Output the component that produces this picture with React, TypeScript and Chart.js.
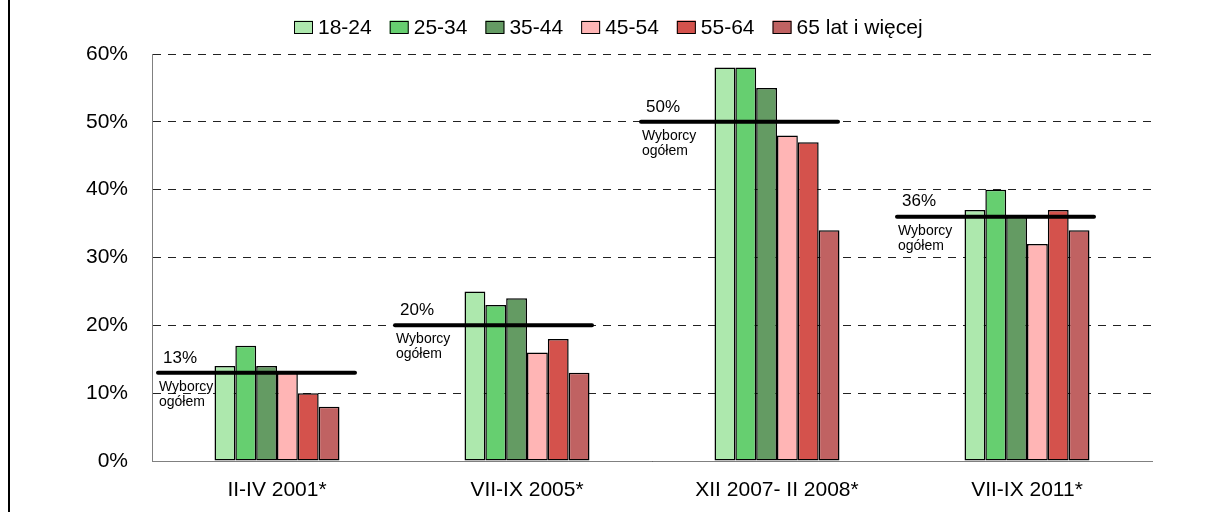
import React, { useEffect, useRef } from "react";
import { Chart, registerables } from "chart.js";

Chart.register(...registerables);

const categories = ["II-IV 2001*", "VII-IX 2005*", "XII 2007- II 2008*", "VII-IX 2011*"];
const seriesLabels = ["18-24", "25-34", "35-44", "45-54", "55-64", "65 lat i więcej"];
const s1824 = [14, 25, 58, 37];
const s2534 = [17, 23, 58, 40];
const s3544 = [14, 24, 55, 36];
const s4554 = [13, 16, 48, 32];
const s5564 = [10, 18, 47, 37];
const s65 = [8, 13, 34, 34];
const totals = [13, 20, 50, 36];
const totalCaption = ["Wyborcy", "ogółem"];
const yTicks = [0, 10, 20, 30, 40, 50, 60];

const colors = ["#ade8ad", "#66cf70", "#649b63", "#ffb5b5", "#d4524c", "#c06262"];
const FONT = "'Liberation Sans', Arial, sans-serif";

const overlayPlugin = {
  id: "overlay",
  afterDatasetsDraw(chart: any, _args: any, opts: any) {
    const ctx = chart.ctx;
    const xs = chart.scales.x;
    const ys = chart.scales.y;
    const n = chart.data.labels.length;
    const catW = xs.width / n;
    ctx.save();
    for (let i = 0; i < n; i++) {
      const cx = xs.getPixelForValue(i);
      const x0 = cx + opts.start[i] * catW;
      const x1 = x0 + opts.length * catW;
      const y = ys.getPixelForValue(totals[i]);
      ctx.strokeStyle = "#000";
      ctx.lineWidth = 4;
      ctx.lineCap = "round";
      ctx.beginPath();
      ctx.moveTo(x0, y);
      ctx.lineTo(x1, y);
      ctx.stroke();
      ctx.fillStyle = "#000";
      ctx.textBaseline = "middle";
      ctx.textAlign = "left";
      ctx.font = `17px ${FONT}`;
      ctx.fillText(`${totals[i]}%`, x0 + 5, y - 15);
      ctx.font = `14px ${FONT}`;
      ctx.fillText(totalCaption[0], x0 + 1, y + 14);
      ctx.fillText(totalCaption[1], x0 + 1, y + 29);
    }
    ctx.restore();
  },
  afterDraw(chart: any) {
    const ctx = chart.ctx;
    ctx.save();
    // frame left edge
    ctx.fillStyle = "#000";
    ctx.fillRect(8, 0, 2, chart.height);
    // legend
    ctx.font = `21px ${FONT}`;
    const items = chart.data.datasets.map((d: any) => ({
      label: d.label,
      color: d.backgroundColor,
      w: 19 + 5 + ctx.measureText(d.label).width,
    }));
    const gap = 18;
    const total = items.reduce((a: number, b: any) => a + b.w, 0) + gap * (items.length - 1);
    let x = Math.round((chart.width - total) / 2 + 5);
    const yc = 27;
    for (const it of items) {
      ctx.fillStyle = it.color;
      ctx.fillRect(x, yc - 6.5, 19, 13);
      ctx.strokeStyle = "#000";
      ctx.lineWidth = 1;
      ctx.strokeRect(x + 0.5, Math.round(yc - 6.5) + 0.5, 18, 12);
      ctx.fillStyle = "#000";
      ctx.textAlign = "left";
      ctx.textBaseline = "middle";
      ctx.fillText(it.label, x + 24, yc + 1);
      x += it.w + gap;
    }
    ctx.restore();
  },
};

export default function App() {
  const ref = useRef<HTMLCanvasElement | null>(null);
  useEffect(() => {
    document.body.style.margin = "0";
    const canvas = ref.current!;
    const seriesData = [s1824, s2534, s3544, s4554, s5564, s65];
    const chart = new Chart(canvas, {
      type: "bar",
      data: {
        labels: categories,
        datasets: seriesLabels.map((label, i) => ({
          label,
          data: seriesData[i],
          backgroundColor: colors[i],
          borderColor: "#000",
          borderWidth: 1.5,
          borderSkipped: false,
          categoryPercentage: 0.5,
          barPercentage: 1.0,
        })),
      },
      options: {
        responsive: false,
        animation: false,
        devicePixelRatio: 1,
        layout: { padding: { left: 0, right: 55, top: 54, bottom: 0 } },
        plugins: {
          legend: { display: false },
          tooltip: { enabled: false },
          overlay: {
            start: [-0.476, -0.528, -0.544, -0.52],
            length: 0.788,
          },
        } as any,
        scales: {
          x: {
            grid: { display: false, drawTicks: false },
            border: { display: true, color: "#808080", width: 1 },
            ticks: { color: "#000", font: { family: FONT, size: 21 }, padding: 17, maxRotation: 0 },
            afterFit: (s: any) => {
              s.height = 51;
            },
          },
          y: {
            min: 0,
            max: 60,
            afterBuildTicks: (s: any) => {
              s.ticks = yTicks.map((v) => ({ value: v }));
            },
            grid: { color: "#222", lineWidth: 1, drawTicks: false },
            border: { display: true, color: "#808080", width: 1, dash: [8, 7] },
            ticks: {
              color: "#000",
              font: { family: FONT, size: 21 },
              padding: 24,
              callback: (v: any) => `${v}%`,
            },
            afterFit: (s: any) => {
              s.width = 152;
            },
          },
        },
      },
      plugins: [overlayPlugin],
    });
    return () => chart.destroy();
  }, []);
  return <canvas ref={ref} width={1207} height={512} style={{ display: "block" }} />;
}
